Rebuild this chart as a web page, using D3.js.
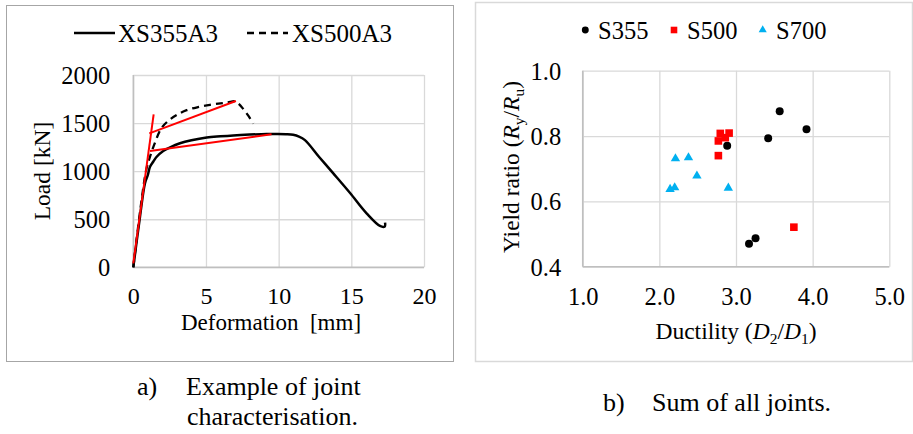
<!DOCTYPE html>
<html><head><meta charset="utf-8">
<script src="https://cdn.jsdelivr.net/npm/d3@7"></script>
<style>
html,body{margin:0;padding:0;background:#fff;}
svg{display:block;}
</style></head>
<body>
<svg id="chart" width="913" height="434"></svg>
<script>
// ---------- Panel a) data ----------
const xTicksA = [0, 5, 10, 15, 20];
const yTicksA = [0, 500, 1000, 1500, 2000];
const seriesNamesA = ["XS355A3", "XS500A3"];
// XS355A3 (deformation mm, load kN)
const xs355Def  = [0, 0.46, 0.80, 1.00, 1.15, 1.38, 1.61, 2.06, 2.50, 3.21, 4.00, 5.05, 6.00, 6.88, 8.00, 9.17, 9.86, 10.5, 11.0, 11.4, 11.81, 12.8, 13.76, 14.9, 16.05, 16.97, 17.30, 17.32];
const xs355Load = [0, 526, 873, 960, 1046, 1100, 1150, 1210, 1245, 1290, 1322, 1351, 1363, 1372, 1380, 1386, 1386, 1384, 1378, 1360, 1323, 1145, 977, 775, 561, 430, 425, 465];
// XS500A3
const xs500Def  = [0, 0.50, 0.90, 1.15, 1.50, 1.95, 2.50, 3.00, 3.67, 4.50, 5.28, 6.00, 6.50, 7.00, 7.25, 7.55, 7.90, 8.25];
const xs500Load = [0, 620, 1020, 1150, 1300, 1450, 1535, 1585, 1635, 1668, 1690, 1705, 1715, 1726, 1700, 1650, 1580, 1495];
// red bilinear fits: [x1, y1, x2, y2]
const fitStiffness = [0, 40, 1.40, 1590];
const fit500 = [1.10, 1393, 7.06, 1730];
const fit355 = [1.15, 1209, 9.51, 1383];

// ---------- Panel b) data ----------
const xTicksB = [1.0, 2.0, 3.0, 4.0, 5.0];
const yTicksB = [0.4, 0.6, 0.8, 1.0];
const groupsB = ["S355", "S500", "S700"];
const s355Duct  = [3.57, 3.92, 3.42, 2.885, 3.255, 3.17];
const s355Yield = [0.876, 0.821, 0.793, 0.770, 0.487, 0.470];
const s500Duct  = [2.795, 2.91, 2.86, 2.77, 2.77, 3.755];
const s500Yield = [0.808, 0.809, 0.795, 0.785, 0.740, 0.521];
const s700Duct  = [2.21, 2.38, 2.49, 2.14, 2.20, 2.90];
const s700Yield = [0.731, 0.734, 0.678, 0.637, 0.642, 0.641];

const captionA1 = "Example of joint";
const captionA2 = "characterisation.";
const captionB = "Sum of all joints.";

const svg = d3.select("#chart");
const GRID = "#d9d9d9";

// panel borders
svg.append("rect").attr("x", 6.5).attr("y", 5.5).attr("width", 447).attr("height", 356)
  .attr("fill", "none").attr("stroke", "#a6a6a6").attr("stroke-width", 1);
svg.append("rect").attr("x", 475.5).attr("y", 2.5).attr("width", 437).attr("height", 359)
  .attr("fill", "none").attr("stroke", "#d9d9d9").attr("stroke-width", 1.5);

// ================= Panel a =================
const xA = d3.scaleLinear().domain([0, 20]).range([133.3, 424]);
const yA = d3.scaleLinear().domain([0, 2000]).range([267.3, 75]);
const gA = svg.append("g");

gA.append("g").attr("transform", `translate(0,${yA(0)})`)
  .call(d3.axisBottom(xA).tickValues(xTicksA).tickSize(-(yA(0) - yA(2000))).tickPadding(0).tickFormat(d3.format("d")))
  .call(g => { g.select(".domain").remove();
    g.selectAll("line").attr("stroke", GRID).attr("stroke-width", 1.3);
    g.selectAll("text").attr("y", 36.7).attr("dy", 0).style("font-size", "24px"); });
gA.append("g").attr("transform", `translate(${xA(0)},0)`)
  .call(d3.axisLeft(yA).tickValues(yTicksA).tickSize(-(xA(20) - xA(0))).tickPadding(0).tickFormat(d3.format("d")))
  .call(g => { g.select(".domain").remove();
    g.selectAll("line").attr("stroke", GRID).attr("stroke-width", 1.3);
    g.selectAll("text").attr("x", -23).attr("dy", "0.34em").style("font-size", "24.5px"); });
// axis lines
gA.append("line").attr("x1", xA(0)).attr("x2", xA(20)).attr("y1", yA(0)).attr("y2", yA(0)).attr("stroke", "#bfbfbf").attr("stroke-width", 1.5);
gA.append("line").attr("x1", xA(0)).attr("x2", xA(0)).attr("y1", yA(0)).attr("y2", yA(2000)).attr("stroke", "#bfbfbf").attr("stroke-width", 1.5);

const lineA = d3.line().x(d => xA(d[0])).y(d => yA(d[1])).curve(d3.curveCatmullRom.alpha(0.5));
gA.append("path").datum(xs500Def.map((d, i) => [d, xs500Load[i]]))
  .attr("d", lineA).attr("fill", "none").attr("stroke", "#000").attr("stroke-width", 2.3).attr("stroke-dasharray", "7,5");
gA.append("path").datum(xs355Def.map((d, i) => [d, xs355Load[i]]))
  .attr("d", lineA).attr("fill", "none").attr("stroke", "#000").attr("stroke-width", 2.5).attr("stroke-linejoin", "round");
[fitStiffness, fit500, fit355].forEach(f => {
  gA.append("line").attr("x1", xA(f[0])).attr("y1", yA(f[1])).attr("x2", xA(f[2])).attr("y2", yA(f[3]))
    .attr("stroke", "#ff0000").attr("stroke-width", 2);
});

// legend a
const legA = [{x1: 74, x2: 115, tx: 118, dash: null}, {x1: 247, x2: 288, tx: 292, dash: "7,5"}];
legA.forEach((l, i) => {
  gA.append("line").attr("x1", l.x1).attr("x2", l.x2).attr("y1", 33).attr("y2", 33)
    .attr("stroke", "#000").attr("stroke-width", 2.3).attr("stroke-dasharray", l.dash);
  gA.append("text").attr("x", l.tx).attr("y", 41.7).style("font-size", "25px").text(seriesNamesA[i]);
});
// axis titles a
gA.append("text").attr("x", 271).attr("y", 330).attr("text-anchor", "middle").style("font-size", "23px")
  .style("white-space", "pre").text("Deformation  [mm]");
gA.append("text").attr("transform", "translate(50,171) rotate(-90)").attr("text-anchor", "middle")
  .style("font-size", "23.5px").text("Load [kN]");

// ================= Panel b =================
const xB = d3.scaleLinear().domain([1, 5]).range([582.7, 889.3]);
const yB = d3.scaleLinear().domain([0.4, 1.0]).range([266.7, 70.7]);
const gB = svg.append("g");
gB.append("g").attr("transform", `translate(0,${yB(0.4)})`)
  .call(d3.axisBottom(xB).tickValues(xTicksB).tickSize(-(yB(0.4) - yB(1.0))).tickPadding(0).tickFormat(d3.format(".1f")))
  .call(g => { g.select(".domain").remove();
    g.selectAll("line").attr("stroke", GRID).attr("stroke-width", 1.3);
    g.selectAll("text").attr("y", 38.3).attr("dy", 0).style("font-size", "24.5px"); });
gB.append("g").attr("transform", `translate(${xB(1)},0)`)
  .call(d3.axisLeft(yB).tickValues(yTicksB).tickSize(-(xB(5) - xB(1))).tickPadding(0).tickFormat(d3.format(".1f")))
  .call(g => { g.select(".domain").remove();
    g.selectAll("line").attr("stroke", GRID).attr("stroke-width", 1.3);
    g.selectAll("text").attr("x", -21.5).attr("dy", "0.34em").style("font-size", "24.5px"); });
gB.append("line").attr("x1", xB(1)).attr("x2", xB(5)).attr("y1", yB(0.4)).attr("y2", yB(0.4)).attr("stroke", "#bfbfbf").attr("stroke-width", 1.5);
gB.append("line").attr("x1", xB(1)).attr("x2", xB(1)).attr("y1", yB(0.4)).attr("y2", yB(1.0)).attr("stroke", "#bfbfbf").attr("stroke-width", 1.5);

const sym = [d3.symbolCircle, d3.symbolSquare, d3.symbolTriangle];
const cols = ["#000000", "#ff0000", "#00b0f0"];
const sizes = [50, 58, 38];
const dataB = [[s355Duct, s355Yield], [s500Duct, s500Yield], [s700Duct, s700Yield]];
dataB.forEach((s, k) => {
  gB.selectAll(null).data(s[0].map((d, i) => [d, s[1][i]])).join("path")
    .attr("transform", d => `translate(${xB(d[0])},${yB(d[1])})`)
    .attr("d", d3.symbol().type(sym[k]).size(sizes[k])).attr("fill", cols[k]);
});
// legend b
const legB = [{mx: 585.3, tx: 598}, {mx: 674, tx: 687}, {mx: 762.7, tx: 776}];
legB.forEach((l, k) => {
  gB.append("path").attr("transform", `translate(${l.mx},30)`)
    .attr("d", d3.symbol().type(sym[k]).size(sizes[k] * 0.75)).attr("fill", cols[k]);
  gB.append("text").attr("x", l.tx).attr("y", 39).style("font-size", "24.5px").text(groupsB[k]);
});
// axis titles b
const xt = gB.append("text").attr("x", 736).attr("y", 339).attr("text-anchor", "middle").style("font-size", "23.5px");
xt.append("tspan").text("Ductility (");
xt.append("tspan").style("font-style", "italic").text("D");
xt.append("tspan").attr("dy", 5).style("font-size", "15.5px").text("2");
xt.append("tspan").attr("dy", -5).text("/");
xt.append("tspan").style("font-style", "italic").text("D");
xt.append("tspan").attr("dy", 5).style("font-size", "15.5px").text("1");
xt.append("tspan").attr("dy", -5).text(")");

const yt = gB.append("text").attr("transform", "translate(519,167) rotate(-90)").attr("text-anchor", "middle").style("font-size", "23.5px");
yt.append("tspan").text("Yield ratio (");
yt.append("tspan").style("font-style", "italic").text("R");
yt.append("tspan").attr("dy", 5).style("font-size", "15.5px").text("y");
yt.append("tspan").attr("dy", -5).text("/");
yt.append("tspan").style("font-style", "italic").text("R");
yt.append("tspan").attr("dy", 5).style("font-size", "15.5px").text("u");
yt.append("tspan").attr("dy", -5).text(")");

// captions
svg.append("text").attr("x", 137).attr("y", 395).style("font-size", "26px").text("a)");
svg.append("text").attr("x", 186).attr("y", 395).style("font-size", "26px").text(captionA1);
svg.append("text").attr("x", 187).attr("y", 425).style("font-size", "26px").text(captionA2);
svg.append("text").attr("x", 603).attr("y", 411).style("font-size", "26px").text("b)");
svg.append("text").attr("x", 652).attr("y", 411).style("font-size", "26px").text(captionB);

// apply serif font everywhere
svg.selectAll("g").attr("font-family", null).attr("font-size", null);
svg.selectAll("text").style("font-family", "Liberation Serif").attr("fill", "#000");
</script>
</body></html>
